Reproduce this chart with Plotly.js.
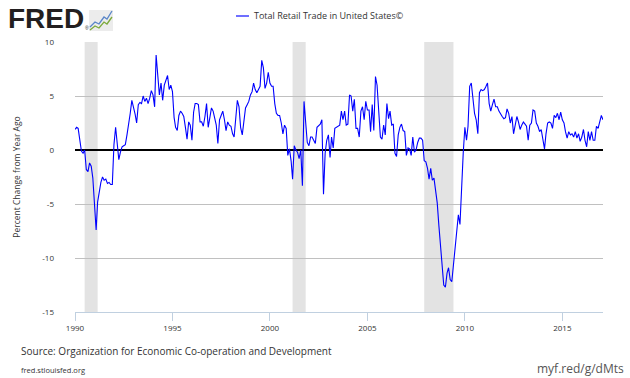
<!DOCTYPE html>
<html>
<head>
<meta charset="utf-8">
<script src="https://cdn.plot.ly/plotly-3.0.1.min.js"></script>
<style>
html,body{margin:0;padding:0;background:#fff;}
#chart{width:630px;height:378px;}
</style>
</head>
<body>
<div id="chart"></div>
<script>
// ---- DATA ----
const seriesName = 'Total Retail Trade in United States\u00a9';
const startYear = 1990;
// Monthly percent change from year ago, Jan 1990 .. Feb 2017
const pctChange = [
  1.9, 2.1, 2.0, 1.0, -0.1, -0.3, 0.0, -1.8, -2.0, -1.2, -1.5, -2.6,   // 1990
  -5.2, -7.4, -4.8, -3.7, -3.0, -2.5, -2.8, -2.7, -3.1, -3.0, -3.2, -3.2, // 1991
  0.5, 2.1, 0.4, -0.9, -0.2, 0.3, 0.4, 0.5, 1.4, 2.3, 3.4, 4.6,        // 1992
  4.0, 3.3, 2.5, 4.2, 4.4, 4.3, 5.0, 4.5, 4.8, 4.3, 4.8, 5.5,          // 1993
  5.1, 4.0, 8.8, 6.4, 5.1, 6.2, 4.6, 6.0, 6.4, 6.9, 5.6, 6.0,          // 1994
  5.4, 3.0, 2.1, 1.8, 3.2, 3.6, 3.4, 3.1, 2.1, 1.0, 2.6, 2.3,          // 1995
  0.9, 3.5, 4.3, 4.3, 4.2, 2.6, 2.6, 2.2, 3.1, 4.3, 2.1, 3.0,          // 1996
  3.9, 3.6, 2.9, 2.3, 0.6, 2.8, 3.2, 3.6, 2.8, 1.8, 2.6, 2.3,          // 1997
  2.2, 1.5, 1.2, 3.1, 4.6, 4.0, 2.1, 1.4, 2.8, 3.9, 4.2, 4.5,          // 1998
  5.1, 5.4, 6.2, 5.6, 5.3, 5.6, 5.9, 8.3, 7.6, 5.7, 6.2, 7.2,          // 1999
  6.2, 5.9, 5.9, 4.3, 3.4, 3.2, 3.2, 2.5, 1.5, 2.3, 2.0, -0.5,         // 2000
  0.1, -1.0, -2.7, 0.4, 0.0, -0.2, -0.8, 0.0, -3.3, 4.5, 2.1, 0.7,     // 2001
  0.4, 1.2, 1.2, 0.9, 0.6, 2.1, 2.3, 2.4, 2.8, -4.1, -0.3, 0.9,        // 2002
  1.4, -0.7, 1.2, 0.2, 2.0, 2.1, 2.2, 2.3, 3.6, 2.8, 3.6, 2.3,         // 2003
  2.4, 5.1, 5.0, 3.6, 4.7, 2.0, 2.0, 1.2, 3.6, 4.0, 2.8, 4.5,          // 2004
  3.7, 3.7, 1.7, 4.2, 1.8, 6.8, 6.0, 3.7, 1.2, 1.0, 2.3, 1.4,          // 2005
  4.3, 2.9, 3.6, 2.3, 2.4, -0.3, -0.6, 1.4, 2.1, 2.4, 1.8, 1.7,        // 2006
  -0.5, 0.2, 0.1, -0.5, 1.2, -0.2, 0.0, 0.7, 1.1, 1.1, 0.9, -1.0,      // 2007
  -1.1, -1.7, -2.7, -1.7, -2.8, -2.6, -3.8, -4.9, -7.0, -8.8, -11.1, -12.5, // 2008
  -12.7, -11.4, -10.9, -12.0, -12.2, -10.5, -9.0, -7.5, -6.0, -6.9, -3.0, -0.3, // 2009
  2.1, 0.9, 2.2, 5.9, 6.2, 4.6, 3.4, 2.8, 1.5, 5.3, 5.6, 5.5,          // 2010
  5.6, 5.9, 6.2, 4.3, 3.6, 4.2, 4.7, 4.0, 4.0, 3.6, 3.3, 3.1,          // 2011
  2.9, 3.0, 3.8, 3.4, 2.5, 3.1, 1.5, 2.3, 3.1, 2.6, 1.9, 2.3,          // 2012
  2.6, 2.4, 2.2, 0.9, 2.3, 2.5, 3.7, 3.6, 2.5, 2.2, 1.7, 1.9,          // 2013
  0.8, 0.1, 1.5, 2.5, 2.6, 2.5, 2.0, 3.2, 3.0, 3.4, 2.8, 3.5,          // 2014
  2.8, 2.5, 1.7, 1.1, 1.7, 1.4, 1.5, 1.2, 1.7, 1.1, 1.5, 0.8,          // 2015
  1.2, 1.9, 0.9, 0.3, 1.7, 0.9, 1.7, 0.9, 0.9, 2.2, 2.0, 2.6,          // 2016
  3.2, 2.8                                                              // 2017
];
const recessionStarts = ['1990-07-01', '2001-03-01', '2007-12-01'];
const recessionEnds   = ['1991-03-01', '2001-11-01', '2009-06-01'];
const xTickVals = ['1990-01-01', '1995-01-01', '2000-01-01', '2005-01-01', '2010-01-01', '2015-01-01'];
const xTickText = ['1990', '1995', '2000', '2005', '2010', '2015'];
const yTickVals = [-15, -10, -5, 0, 5, 10];
const yTickText = ['-15', '-10', '-5', '0', '5', '10'];
const xRange = ['1990-01-01', '2017-02-01'];
const yRange = [-15, 10];

// ---- BUILD ----
function pad(n){ return n < 10 ? '0' + n : '' + n; }
const dates = pctChange.map((_, i) => (startYear + Math.floor(i / 12)) + '-' + pad(i % 12 + 1) + '-01');

// plot area geometry (pixels) for placing decorations
const L = 75, R = 603, T = 42, B = 312;
const W = 630, H = 378;
const px = x => (x - L) / (R - L);
const py = y => (B - y) / (B - T);

const FONT = 'Open Sans, DejaVu Sans, sans-serif';

const trace = {
  x: dates, y: pctChange, type: 'scatter', mode: 'lines',
  name: seriesName,
  line: {color: '#0000ff', width: 1.1},
  hoverinfo: 'x+y', showlegend: false
};

const shapes = recessionStarts.map((s, i) => ({
  type: 'rect', xref: 'x', yref: 'paper', x0: s, x1: recessionEnds[i], y0: 0, y1: 1,
  fillcolor: '#e3e3e3', line: {width: 0}, layer: 'below'
}));

// legend sample line
shapes.push({type: 'line', xref: 'paper', yref: 'paper',
  x0: px(236), x1: px(249), y0: py(16), y1: py(16),
  line: {color: '#6f6fff', width: 2}});

// FRED logo icon
shapes.push({type: 'rect', xref: 'paper', yref: 'paper',
  x0: px(89), x1: px(113), y0: py(31), y1: py(10),
  fillcolor: '#ececec', line: {width: 0}});
shapes.push({type: 'path', xref: 'paper', yref: 'paper',
  path: 'M' + px(90) + ',' + py(27) + ' L' + px(95) + ',' + py(22) + ' L' + px(99) + ',' + py(24) + ' L' + px(104) + ',' + py(17) + ' L' + px(107) + ',' + py(19) + ' L' + px(112) + ',' + py(11),
  line: {color: '#5a86c8', width: 1.3}});
shapes.push({type: 'path', xref: 'paper', yref: 'paper',
  path: 'M' + px(90) + ',' + py(30) + ' L' + px(95) + ',' + py(26) + ' L' + px(99) + ',' + py(28) + ' L' + px(104) + ',' + py(22) + ' L' + px(107) + ',' + py(24) + ' L' + px(112) + ',' + py(17),
  line: {color: '#7caa3c', width: 1.3}});

const annotations = [
  {text: '<b>FRED</b>', xref: 'paper', yref: 'paper', x: px(6), y: py(19), xanchor: 'left', yanchor: 'middle',
   showarrow: false, font: {family: 'Liberation Sans, Arial, sans-serif', size: 28, color: '#231f20'}},
  {text: '\u00ae', xref: 'paper', yref: 'paper', x: px(83), y: py(28), xanchor: 'left', yanchor: 'middle',
   showarrow: false, font: {family: 'Liberation Sans, Arial, sans-serif', size: 5, color: '#231f20'}},
  {text: seriesName, xref: 'paper', yref: 'paper', x: px(252), y: py(16), xanchor: 'left', yanchor: 'middle',
   showarrow: false, font: {family: FONT, size: 9, color: '#333333'}},
  {text: 'Source: Organization for Economic Co-operation and Development', xref: 'paper', yref: 'paper',
   x: px(19), y: py(351), xanchor: 'left', yanchor: 'middle',
   showarrow: false, font: {family: FONT, size: 10, color: '#333333'}},
  {text: 'fred.stlouisfed.org', xref: 'paper', yref: 'paper', x: px(19), y: py(370), xanchor: 'left', yanchor: 'middle',
   showarrow: false, font: {family: FONT, size: 7.5, color: '#333333'}},
  {text: 'myf.red/g/dMts', xref: 'paper', yref: 'paper', x: px(626), y: py(368), xanchor: 'right', yanchor: 'middle',
   showarrow: false, font: {family: FONT, size: 12, color: '#555555'}}
];

const layout = {
  width: W, height: H,
  margin: {l: L, r: W - R, t: T, b: H - B, pad: 0},
  paper_bgcolor: '#ffffff', plot_bgcolor: '#ffffff',
  showlegend: false,
  font: {family: FONT, size: 8, color: '#333333'},
  xaxis: {
    type: 'date', range: xRange, tickmode: 'array', tickvals: xTickVals, ticktext: xTickText,
    showgrid: false, zeroline: false, showline: true, linecolor: '#c0d0e0', linewidth: 1,
    ticks: 'outside', ticklen: 8, tickcolor: '#c0d0e0', tickwidth: 1,
    tickfont: {family: FONT, size: 8, color: '#333333'}, fixedrange: true
  },
  yaxis: {
    range: yRange, tickmode: 'array', tickvals: yTickVals, ticktext: yTickText,
    showgrid: true, gridcolor: '#c0c0c0', gridwidth: 1,
    zeroline: true, zerolinecolor: '#000000', zerolinewidth: 2,
    showline: false, ticks: '', ticklabelstandoff: 20,
    tickfont: {family: FONT, size: 8, color: '#333333'},
    title: {text: 'Percent Change from Year Ago', font: {family: FONT, size: 8.5, color: '#333333'}, standoff: 20},
    fixedrange: true
  },
  shapes: shapes,
  annotations: annotations
};

Plotly.newPlot('chart', [trace], layout, {displayModeBar: false, staticPlot: true});
</script>
</body>
</html>
